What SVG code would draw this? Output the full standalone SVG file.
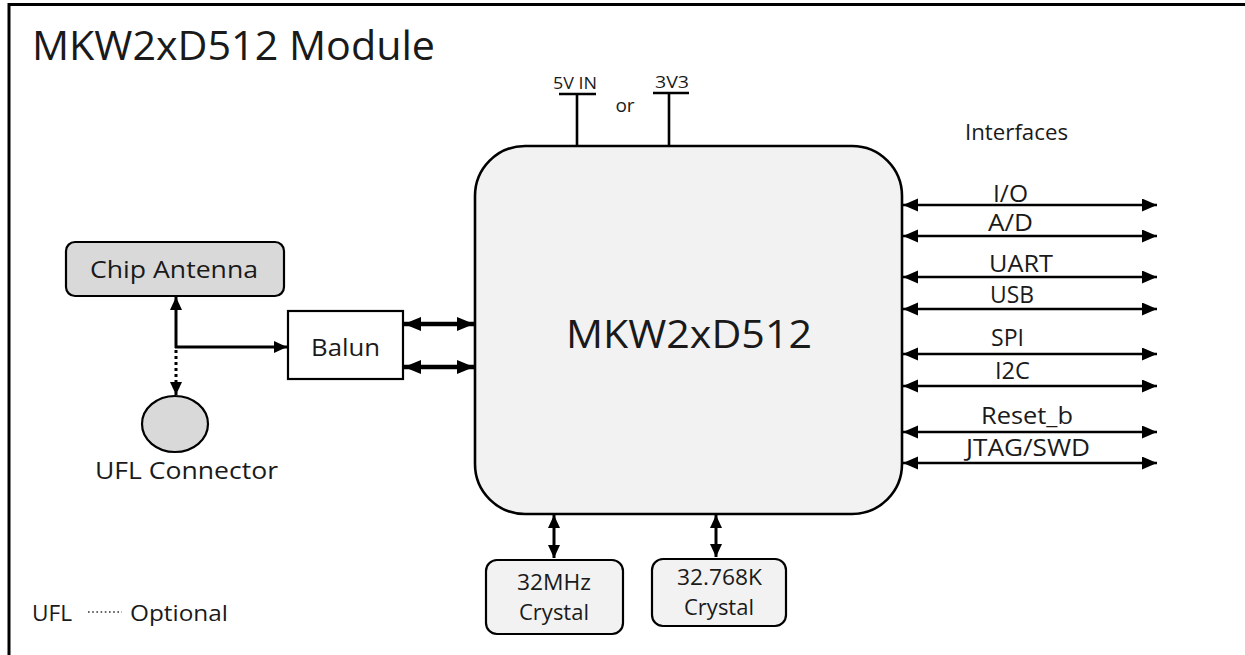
<svg xmlns="http://www.w3.org/2000/svg" width="1245" height="655" viewBox="0 0 1245 655">
<style>
text{font-family:"Open Sans","Noto Sans","Liberation Sans",sans-serif;fill:#1a1a1a}
.m{text-anchor:middle}
.ln{stroke:#000;stroke-width:2.6;fill:none}
.box{stroke:#000;stroke-width:2.2}
</style>
<defs>
<marker id="ah" markerUnits="userSpaceOnUse" markerWidth="16" markerHeight="14" refX="15" refY="6.5" orient="auto-start-reverse"><path d="M0,0 L15,6.5 L0,13 z" fill="#000"/></marker>
<marker id="ahb" markerUnits="userSpaceOnUse" markerWidth="18" markerHeight="15" refX="17" refY="7" orient="auto-start-reverse"><path d="M0,0 L17,7 L0,14 z" fill="#000"/></marker>
<marker id="ahs" markerUnits="userSpaceOnUse" markerWidth="14" markerHeight="13" refX="13" refY="6" orient="auto-start-reverse"><path d="M0,0 L13,6 L0,12 z" fill="#000"/></marker>
</defs>
<rect width="1245" height="655" fill="#fff"/>
<g id="frame">
<path d="M9,655 V4.5 H1245" stroke="#000" stroke-width="3" fill="none"/>
<text x="32" y="60" font-size="40" textLength="403" lengthAdjust="spacingAndGlyphs">MKW2xD512 Module</text>
</g>
<g id="connectors">
<path class="ln" d="M559,94 H596 M577,94 V146 M653,93 H689 M669,93 V146"/>
<g class="ln" marker-start="url(#ah)" marker-end="url(#ah)">
<line x1="903" y1="205" x2="1157" y2="205"/>
<line x1="903" y1="236" x2="1157" y2="236"/>
<line x1="903" y1="277" x2="1157" y2="277"/>
<line x1="903" y1="309" x2="1157" y2="309"/>
<line x1="903" y1="354" x2="1157" y2="354"/>
<line x1="903" y1="386" x2="1157" y2="386"/>
<line x1="903" y1="432" x2="1157" y2="432"/>
<line x1="903" y1="463" x2="1157" y2="463"/>
</g>
<g stroke="#000" stroke-width="4.5" marker-start="url(#ahb)" marker-end="url(#ahb)">
<line x1="404" y1="324" x2="474" y2="324"/>
<line x1="404" y1="367" x2="474" y2="367"/>
</g>
<g stroke="#000" stroke-width="3" marker-start="url(#ahs)" marker-end="url(#ahs)">
<line x1="554" y1="515" x2="554" y2="558"/>
<line x1="716" y1="515" x2="716" y2="557"/>
</g>
<line x1="176" y1="348" x2="176" y2="297" stroke="#000" stroke-width="3" marker-end="url(#ahs)"/>
<line x1="175" y1="347" x2="287" y2="347" stroke="#000" stroke-width="3" marker-end="url(#ahs)"/>
<line x1="176" y1="350" x2="176" y2="395" stroke="#000" stroke-width="3" stroke-dasharray="3,3" marker-end="url(#ahs)"/>
<line x1="88" y1="612" x2="122" y2="612" stroke="#333" stroke-width="1.6" stroke-dasharray="1.6,2.6"/>
</g>
<g id="power-labels">
<text class="m" x="575" y="89" font-size="16" textLength="44" lengthAdjust="spacingAndGlyphs">5V IN</text>
<text class="m" x="672" y="88" font-size="16" textLength="34" lengthAdjust="spacingAndGlyphs">3V3</text>
<text class="m" x="625" y="112" font-size="19">or</text>
</g>
<g id="main">
<rect x="475" y="146" width="427" height="368" rx="50" fill="#f2f2f2" stroke="#000" stroke-width="2.6"/>
<text class="m" x="689" y="348" font-size="38" textLength="246" lengthAdjust="spacingAndGlyphs">MKW2xD512</text>
</g>
<g id="interfaces">
<text x="965" y="140" font-size="21" textLength="103" lengthAdjust="spacingAndGlyphs">Interfaces</text>
<text x="993" y="202" font-size="23" textLength="35" lengthAdjust="spacingAndGlyphs">I/O</text>
<text x="988" y="231" font-size="23" textLength="45" lengthAdjust="spacingAndGlyphs">A/D</text>
<text x="989" y="272" font-size="23" textLength="64" lengthAdjust="spacingAndGlyphs">UART</text>
<text x="990" y="303" font-size="23" textLength="44" lengthAdjust="spacingAndGlyphs">USB</text>
<text x="991" y="346" font-size="23" textLength="33" lengthAdjust="spacingAndGlyphs">SPI</text>
<text x="995" y="379" font-size="23" textLength="35" lengthAdjust="spacingAndGlyphs">I2C</text>
<text x="981" y="424" font-size="23" textLength="92" lengthAdjust="spacingAndGlyphs">Reset_b</text>
<text x="966" y="456" font-size="23" textLength="124" lengthAdjust="spacingAndGlyphs">JTAG/SWD</text>
</g>
<g id="chip-antenna">
<rect class="box" x="66" y="242" width="218" height="54" rx="9" fill="#d9d9d9"/>
<text x="90" y="278" font-size="24" textLength="168" lengthAdjust="spacingAndGlyphs">Chip Antenna</text>
</g>
<g id="balun">
<rect class="box" x="288" y="311" width="115" height="68" fill="#fff"/>
<text x="311" y="356" font-size="24" textLength="69" lengthAdjust="spacingAndGlyphs">Balun</text>
</g>
<g id="ufl-connector">
<ellipse class="box" cx="175" cy="424" rx="33" ry="28" fill="#d9d9d9"/>
<text x="95" y="479" font-size="24" textLength="183" lengthAdjust="spacingAndGlyphs">UFL Connector</text>
</g>
<g id="crystal-32mhz">
<rect class="box" x="486" y="560" width="137" height="74" rx="11" fill="#f2f2f2"/>
<text x="517" y="590" font-size="21" textLength="74" lengthAdjust="spacingAndGlyphs">32MHz</text>
<text x="519" y="620" font-size="21" textLength="70" lengthAdjust="spacingAndGlyphs">Crystal</text>
</g>
<g id="crystal-32k">
<rect class="box" x="652" y="559" width="134" height="67" rx="11" fill="#f2f2f2"/>
<text x="677" y="585" font-size="21" textLength="85" lengthAdjust="spacingAndGlyphs">32.768K</text>
<text x="684" y="615" font-size="21" textLength="70" lengthAdjust="spacingAndGlyphs">Crystal</text>
</g>
<g id="legend">
<text x="32" y="621" font-size="21" textLength="40" lengthAdjust="spacingAndGlyphs">UFL</text>
<text x="130" y="621" font-size="21" textLength="98" lengthAdjust="spacingAndGlyphs">Optional</text>
</g>
</svg>
